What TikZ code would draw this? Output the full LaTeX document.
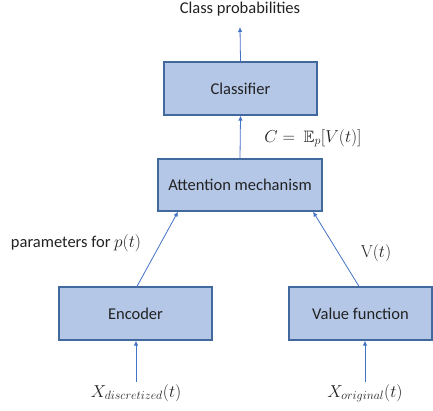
\documentclass[tikz,border=0pt]{standalone}
\usepackage[no-math]{fontspec}
\setmainfont{Carlito}
\usepackage{amssymb}
\usetikzlibrary{arrows.meta}
\definecolor{boxfill}{HTML}{B4C7E7}
\definecolor{boxline}{HTML}{41699E}
\definecolor{arrcol}{HTML}{4472C4}
\definecolor{txt}{HTML}{222222}
\begin{document}
\begin{tikzpicture}[x=1pt,y=-1pt,
  blk/.style={draw=boxline,fill=boxfill,line width=1.2pt,minimum height=53pt,text=txt,font=\fontsize{16.5}{19}\selectfont},
  lbl/.style={text=txt,font=\fontsize{16.5}{19}\selectfont,inner sep=0pt},
  arr/.style={draw=arrcol,line width=0.8pt,-{Latex[length=5pt,width=4.5pt]}}]
\useasboundingbox (0,0) rectangle (433,410);
\node[blk,minimum width=153pt] (cls) at (240.5,88.5) {Classifier};
\node[blk,minimum width=164pt,minimum height=52pt] (att) at (240,185) {Attention mechanism};
\node[blk,minimum width=153pt] (enc) at (135.5,313.5) {Encoder};
\node[blk,minimum width=143pt] (vf) at (360.5,313.5) {Value function};
\node[lbl] (cp) at (240,9) {Class probabilities};
\coordinate (cptip) at (240,27);
\node[lbl] (cl) at (313,138) {$C=\ \mathbb{E}_p[V(t)]$};
\node[lbl] (pl) at (76,243) {parameters for $p(t)$};
\node[lbl] (vl) at (376,253) {$\mathrm{V}(t)$};
\node[lbl] (xd) at (136,393) {$X_{discretized}(t)$};
\node[lbl] (xo) at (365,393) {$X_{original}(t)$};
\coordinate (xds) at (136,382);
\coordinate (xos) at (365,382);
\draw[arr] (cls.north) -- (cptip);
\draw[arr] (att.north) -- (cls.south);
\draw[arr] ([xshift=1.5pt]enc.north) -- ([xshift=-62pt]att.south);
\draw[arr] ([xshift=-1.5pt]vf.north) -- ([xshift=73pt]att.south);
\draw[arr] (xds) -- (xds |- enc.south);
\draw[arr] (xos) -- (xos |- vf.south);
\end{tikzpicture}
\end{document}
